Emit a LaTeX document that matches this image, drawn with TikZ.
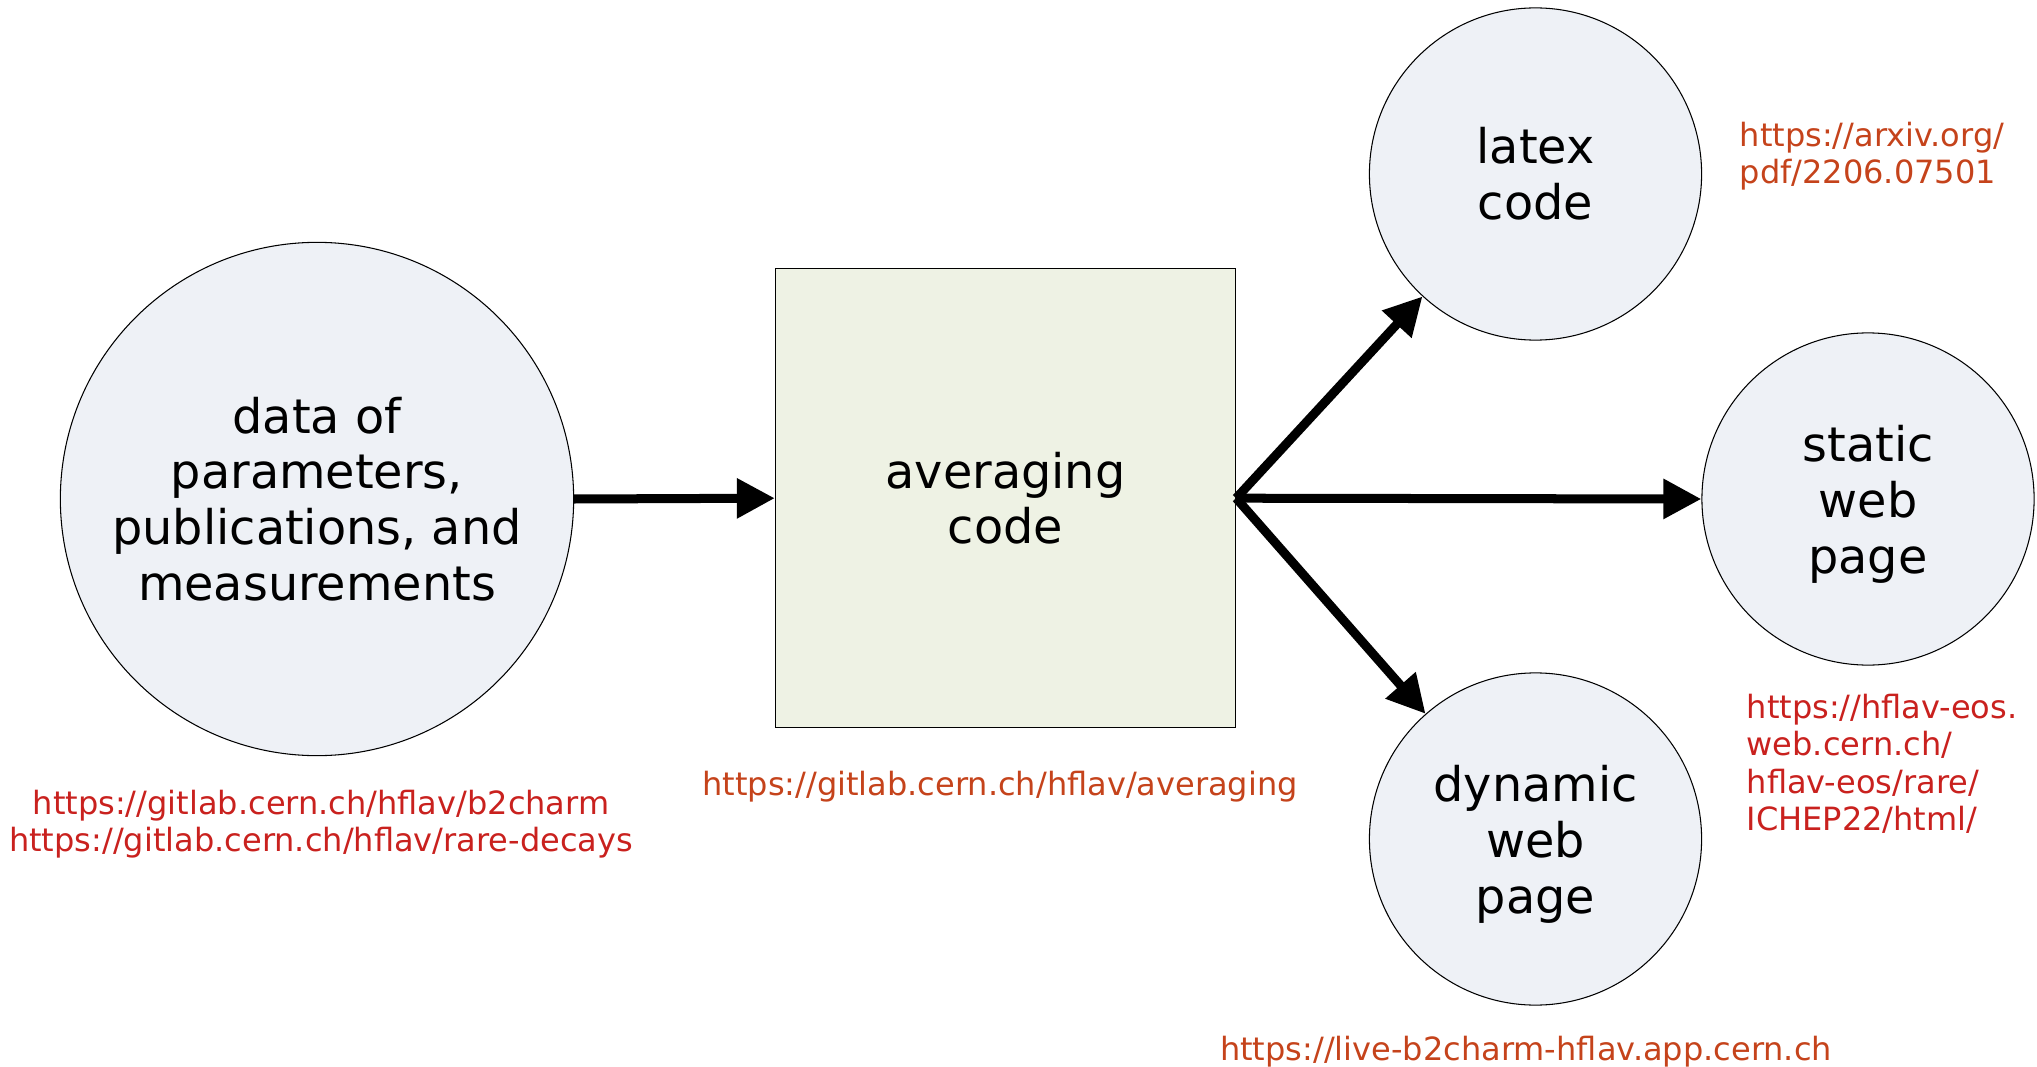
\documentclass[tikz,border=0pt]{standalone}
\usepackage{fontspec}
\setmainfont{DejaVu Sans}
\usetikzlibrary{arrows.meta}
\definecolor{circfill}{RGB}{238,241,246}
\definecolor{boxfill}{RGB}{238,242,228}
\definecolor{linkred}{RGB}{201,33,30}
\definecolor{linkbrick}{RGB}{197,67,27}
\newcommand{\toppad}{\rule{0pt}{0.47cm}}
\tikzset{
  bigtext/.style={font=\fontsize{0.477cm}{0.558cm}\selectfont, align=center},
  linktext/.style={font=\fontsize{0.32cm}{0.375cm}\selectfont, inner sep=0pt},
  bubble/.style={circle, draw=black, line width=0.3pt, fill=circfill, inner sep=0pt, bigtext},
  codebox/.style={rectangle, draw=black, line width=0.3pt, fill=boxfill, inner sep=0pt,
    minimum width=4.6cm, minimum height=4.59cm, bigtext},
  flow/.style={line width=0.09cm, -{Triangle[length=0.38cm, width=0.38cm]}}
}
\begin{document}
\begin{tikzpicture}[x=0.01cm, y=-0.01cm]
  \useasboundingbox (0,0) rectangle (2037,1067);

  % input data, averaging code and outputs
  \node[bubble, minimum size=5.13cm] (data) at (317,499)
    {data of\\parameters,\\publications, and\\measurements};
  \node[codebox] (avg) at (1005.5,498.2) {averaging\\code};
  \node[bubble, minimum size=3.32cm] (latex) at (1535.5,174) {latex\\code};
  \node[bubble, minimum size=3.32cm] (static) at (1868,499) {\toppad static\\web\\page};
  \node[bubble, minimum size=3.32cm] (dynamic) at (1535.5,839) {\toppad dynamic\\web\\page};

  % repository and output links
  \node[linktext, text=linkred, align=center] (datalink) at (321,824)
    {https://gitlab.cern.ch/hflav/b2charm\\https://gitlab.cern.ch/hflav/rare-decays};
  \node[linktext, text=linkbrick] (avglink) at (1000,787)
    {https://gitlab.cern.ch/hflav/averaging};
  \node[linktext, text=linkbrick, align=left, anchor=west] (latexlink) at (1739,156)
    {https://arxiv.org/\\pdf/2206.07501};
  \node[linktext, text=linkred, align=left, anchor=west] (staticlink) at (1746,764)
    {https://hflav-eos.\\web.cern.ch/\\hflav-eos/rare/\\ICHEP22/html/};
  \node[linktext, text=linkbrick] (dynlink) at (1526,1052)
    {https://live-b2charm-hflav.app.cern.ch};

  % data flow
  \draw[flow] (data.east) -- (avg.west);
  \draw[flow] (avg.east) -- (latex);
  \draw[flow] (avg.east) -- (static.west);
  \draw[flow] (avg.east) -- (dynamic);
\end{tikzpicture}
\end{document}
